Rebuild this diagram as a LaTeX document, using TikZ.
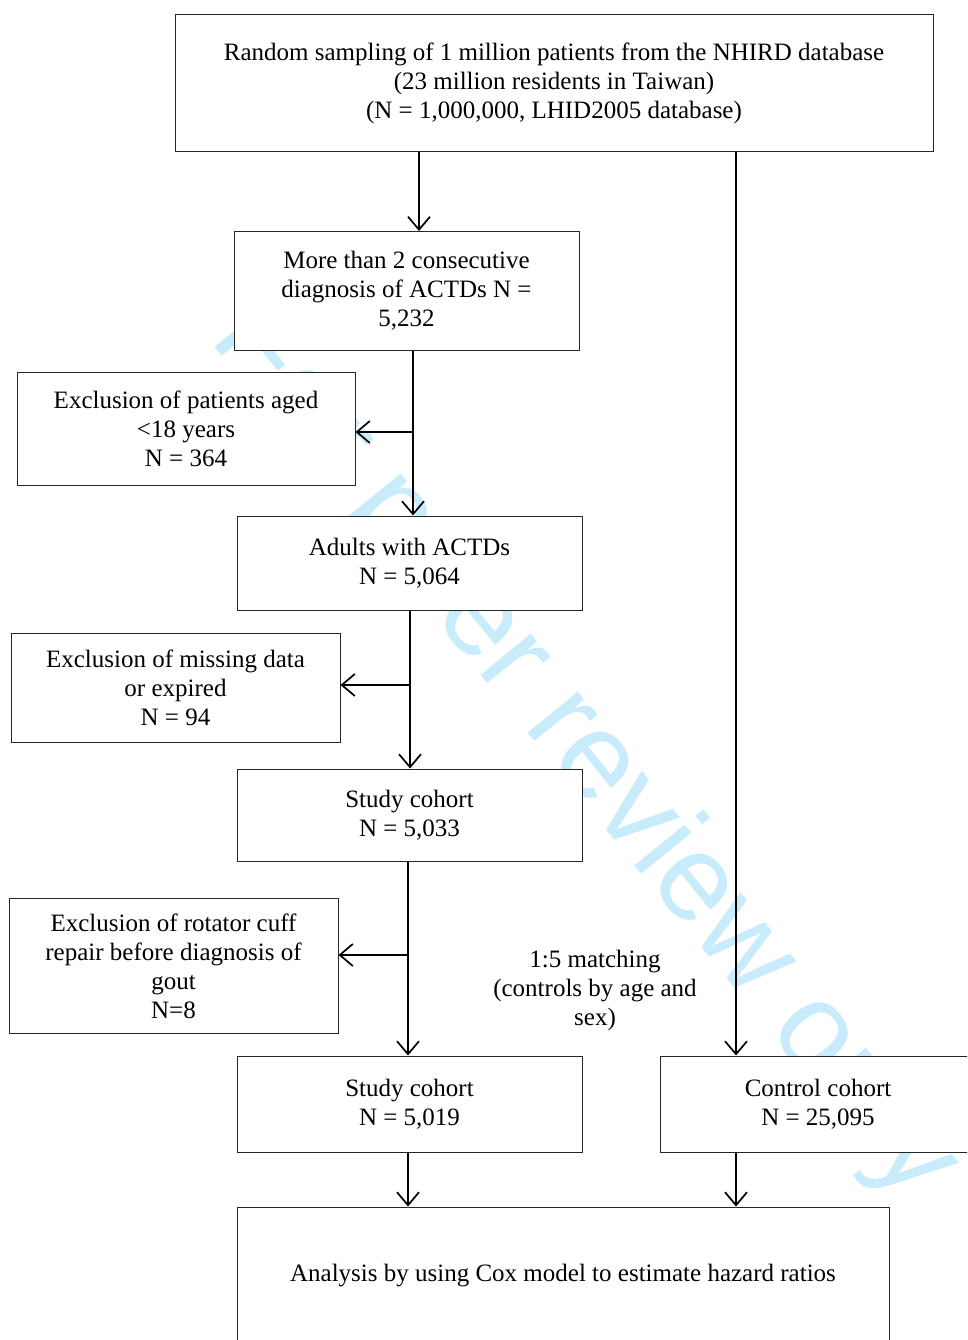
\documentclass[tikz,border=0pt]{standalone}
\usepackage{fontspec}
\setmainfont{Liberation Serif}
\newfontfamily\wmfont{Liberation Sans}
\usetikzlibrary{arrows.meta}
\definecolor{wmblue}{RGB}{200,236,251}
\begin{document}
\begin{tikzpicture}[x=1pt,y=-1pt,
  box/.style={draw=black!85,line width=1pt,fill=white,align=center,inner sep=0pt,
    font=\fontsize{25}{29}\selectfont},
  arr/.style={line width=1.7pt,-{Straight Barb[length=13pt,width=22pt,line width=1.7pt]}},
  plain/.style={line width=1.7pt}]
\useasboundingbox (0,0) rectangle (967,1340);
\clip (0,0) rectangle (967,1340);
% watermark
\node[wmblue,anchor=base,rotate=-51,inner sep=0pt,font=\wmfont\fontsize{123}{123}\selectfont] (wm) at (559,772) {For peer review only};
% boxes
\node[box,minimum width=758,minimum height=137] (top) at (554,83)
  {Random sampling of 1 million patients from the NHIRD database\\(23 million residents in Taiwan)\\(N = 1,000,000, LHID2005 database)};
\node[box,minimum width=345,minimum height=119] (b2) at (406.5,291)
  {More than 2 consecutive\\diagnosis of ACTDs N =\\5,232};
\node[box,minimum width=338,minimum height=113] (e1) at (186,429)
  {Exclusion of patients aged\\<18 years\\N = 364};
\node[box,minimum width=345,minimum height=94] (b3) at (409.5,563)
  {Adults with ACTDs\\N = 5,064};
\node[box,minimum width=329,minimum height=109] (e2) at (175.5,688)
  {Exclusion of missing data\\or expired\\N = 94};
\node[box,minimum width=345,minimum height=92] (b4) at (409.5,815)
  {Study cohort\\N = 5,033};
\node[box,minimum width=329,minimum height=135] (e3) at (173.5,966)
  {Exclusion of rotator cuff\\repair before diagnosis of\\gout\\N=8};
\node[box,minimum width=345,minimum height=96] (b5) at (409.5,1104)
  {Study cohort\\N = 5,019};
\node[box,minimum width=316,minimum height=96] (ctl) at (818,1104)
  {Control cohort\\N = 25,095};
\node[box,minimum width=652,minimum height=138] (fin) at (563,1276)
  {Analysis by using Cox model to estimate hazard ratios};
\node[align=center,inner sep=0pt,font=\fontsize{25}{29}\selectfont] (match) at (595,990)
  {1:5 matching\\(controls by age and\\sex)};
% x positions of the vertical connectors
\coordinate (x1) at (419,0);
\coordinate (x2) at (413,0);
\coordinate (x3) at (410,0);
\coordinate (x4) at (408,0);
\coordinate (xr) at (736,0);
% connectors
\draw[arr] (top.south -| x1) -- (b2.north -| x1);
\draw[arr] (b2.south -| x2) -- (b3.north -| x2);
\draw[arr] ([yshift=-3pt]e1.east -| x2) -- ([yshift=-3pt]e1.east);
\draw[arr] (b3.south -| x3) -- (b4.north -| x3);
\draw[arr] ([yshift=3pt]e2.east -| x3) -- ([yshift=3pt]e2.east);
\draw[arr] (b4.south -| x4) -- (b5.north -| x4);
\draw[arr] ([yshift=11pt]e3.east -| x4) -- ([yshift=11pt]e3.east);
\draw[arr] (top.south -| xr) -- (ctl.north -| xr);
\draw[arr] (b5.south -| x4) -- (fin.north -| x4);
\draw[arr] (ctl.south -| xr) -- (fin.north -| xr);
\end{tikzpicture}
\end{document}
